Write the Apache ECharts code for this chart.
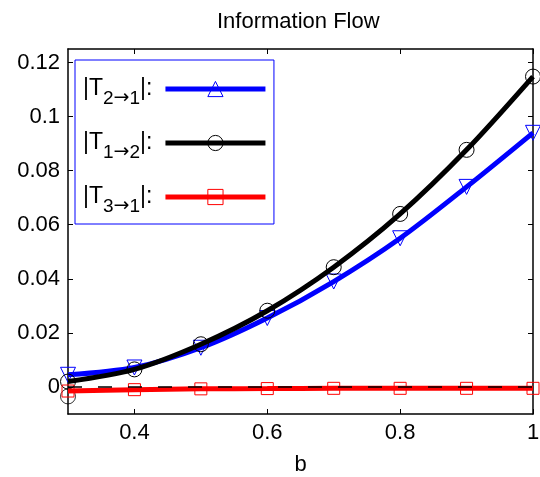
<!DOCTYPE html>
<html>
<head>
<meta charset="utf-8">
<script src="https://cdn.jsdelivr.net/npm/echarts@6/dist/echarts.min.js"></script>
<style>
  html, body { margin: 0; padding: 0; background: #fff; }
  #chart { width: 540px; height: 477px; }
</style>
</head>
<body>
<div id="chart"></div>
<script>
// b values (x)
const bValues = [0.3, 0.4, 0.5, 0.6, 0.7, 0.8, 0.9, 1.0];
// |T 2->1|
const t21 = [0.0045, 0.0072, 0.0145, 0.0255, 0.039, 0.055, 0.074, 0.094];
// |T 1->2|
const t12 = [0.002, 0.0065, 0.0158, 0.0282, 0.0443, 0.064, 0.0877, 0.1148];
// |T 3->1|
const t31 = [-0.0015, -0.001, -0.0007, -0.0006, -0.0005, -0.0005, -0.0005, -0.0005];
// stray circle marker near b = 0.3
const extraB = [0.3];
const extraT12 = [-0.0035];

const xTicks = [0.4, 0.6, 0.8, 1];
const yTicks = [0, 0.02, 0.04, 0.06, 0.08, 0.1, 0.12];

const FONT = '"Liberation Sans", Arial, Helvetica, sans-serif';

const chart = echarts.init(document.getElementById('chart'));

function pairs(xs, ys) {
  return xs.map((x, i) => [x, ys[i]]);
}

function axisCommon(ticks, showLabel) {
  return {
    type: 'value',
    splitLine: { show: false },
    axisLine: { show: true, onZero: false, lineStyle: { color: '#000', width: 1.5 } },
    axisTick: { show: true, inside: true, length: 5, customValues: ticks, lineStyle: { color: '#000', width: 1 } },
    axisLabel: {
      show: showLabel,
      customValues: ticks,
      color: '#000',
      fontSize: 22,
      fontFamily: FONT
    }
  };
}

const legendRich = {
  a: { fontSize: 23, lineHeight: 23, fontFamily: FONT, color: '#000', verticalAlign: 'top' },
  s: { fontSize: 19, lineHeight: 19, fontFamily: FONT, color: '#000', padding: [19, 0, 0, 0] },
  r: { fontSize: 19, lineHeight: 19, fontFamily: '"DejaVu Sans", sans-serif', color: '#000', padding: [19, 0, 0, 0] },
  e: { fontSize: 23, lineHeight: 23, fontFamily: FONT, color: '#000', verticalAlign: 'top', padding: [0, 8, 0, 0] }
};
const legendSub = {
  t21: ['2', '1'],
  t12: ['1', '2'],
  t31: ['3', '1']
};

const option = {
  animation: false,
  backgroundColor: '#fff',
  title: {
    text: 'Information Flow',
    left: 212,
    top: 6,
    textStyle: { fontSize: 22, fontWeight: 'normal', color: '#000', fontFamily: FONT }
  },
  grid: { left: 68, right: 7, top: 49, bottom: 63, outerBoundsMode: 'none' },
  legend: {
    orient: 'vertical',
    left: 75,
    top: 60,
    align: 'right',
    itemWidth: 100,
    itemHeight: 19,
    itemGap: 16,
    padding: [10, 6, 8, 8],
    backgroundColor: '#fff',
    borderColor: '#0000ff',
    borderWidth: 1,
    borderRadius: 0,
    symbolRotate: 0,
    lineStyle: { width: 5 },
    itemStyle: { borderWidth: 1 },
    data: ['t21', 't12', 't31'],
    formatter: function (name) {
      const p = legendSub[name];
      return '{a||T}{s|' + p[0] + '}{r|\u2192}{s|' + p[1] + '}{e||:}';
    },
    textStyle: { rich: legendRich }
  },
  xAxis: [
    Object.assign(axisCommon(xTicks, true), {
      min: 0.3, max: 1, position: 'bottom',
      name: 'b', nameLocation: 'middle', nameGap: 40,
      nameTextStyle: { fontSize: 22, color: '#000', fontFamily: FONT }
    }),
    Object.assign(axisCommon(xTicks, false), { min: 0.3, max: 1, position: 'top' })
  ],
  yAxis: [
    Object.assign(axisCommon(yTicks, true), { min: -0.01, max: 0.125, position: 'left' }),
    Object.assign(axisCommon(yTicks, false), { min: -0.01, max: 0.125, position: 'right' })
  ],
  series: [
    {
      name: 't21',
      type: 'line',
      smooth: 0.3,
      data: pairs(bValues, t21),
      symbol: 'triangle',
      symbolRotate: 180,
      symbolSize: 15,
      color: '#0000ff',
      lineStyle: { color: '#0000ff', width: 5 },
      itemStyle: { color: 'rgba(0,0,0,0)', borderColor: '#0000ff', borderWidth: 1 },
      z: 3
    },
    {
      name: 't12',
      type: 'line',
      smooth: 0.3,
      data: pairs(bValues, t12),
      symbol: 'circle',
      symbolSize: 15,
      color: '#000',
      lineStyle: { color: '#000', width: 5 },
      itemStyle: { color: 'rgba(0,0,0,0)', borderColor: '#000', borderWidth: 1 },
      z: 4
    },
    {
      name: 't12extra',
      type: 'scatter',
      data: pairs(extraB, extraT12),
      symbol: 'circle',
      symbolSize: 15,
      itemStyle: { color: 'rgba(0,0,0,0)', borderColor: '#000', borderWidth: 1 },
      z: 4
    },
    {
      name: 't31',
      type: 'line',
      smooth: 0.3,
      data: pairs(bValues, t31),
      symbol: 'rect',
      symbolSize: 12,
      color: '#ff0000',
      lineStyle: { color: '#ff0000', width: 5 },
      itemStyle: { color: 'rgba(0,0,0,0)', borderColor: '#ff0000', borderWidth: 1 },
      z: 5
    },
    {
      name: 'zero',
      type: 'line',
      data: [],
      z: 10,
      markLine: {
        silent: true,
        symbol: 'none',
        z: 10,
        label: { show: false },
        lineStyle: { color: '#000', type: [14, 16], width: 1.5 },
        data: [{ yAxis: 0 }]
      }
    }
  ]
};

chart.setOption(option);
</script>
</body>
</html>
